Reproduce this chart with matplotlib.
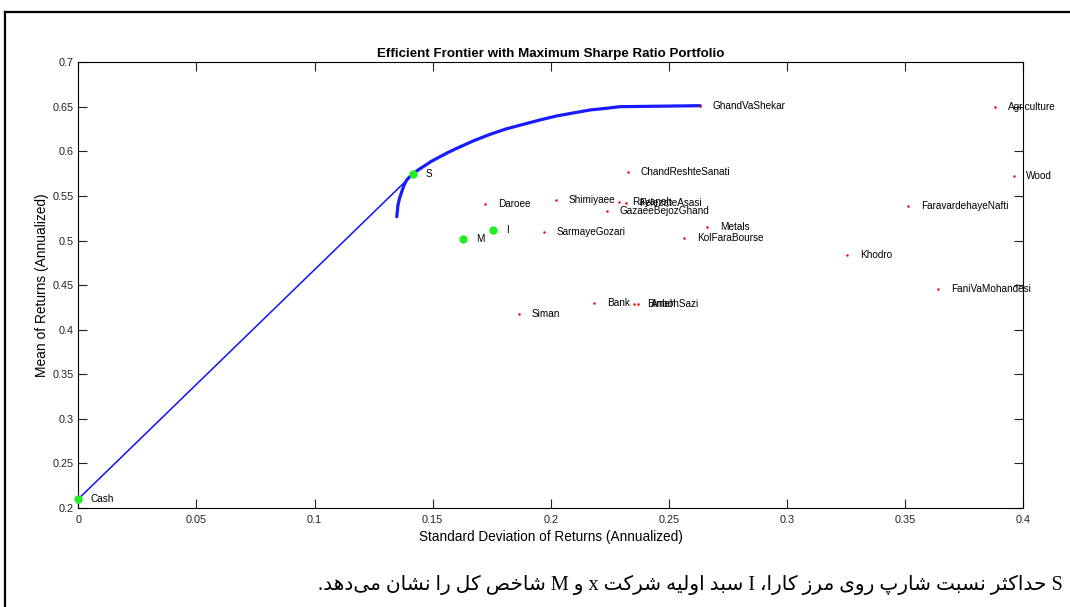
import matplotlib
matplotlib.use("Agg")
import matplotlib.pyplot as plt
from matplotlib.lines import Line2D

# Efficient frontier (risk, return)
frontier_risk = [0.1348, 0.1353, 0.1360, 0.1369, 0.1379, 0.1390, 0.1402, 0.1416,
                 0.1438, 0.1460, 0.1493, 0.1531, 0.1565, 0.1602, 0.1671, 0.1743,
                 0.1810, 0.1884, 0.1954, 0.2025, 0.2094, 0.2166, 0.2229, 0.2293, 0.2632]
frontier_ret = [0.5268, 0.5399, 0.5478, 0.5548, 0.5624, 0.5680, 0.5713, 0.5744,
                0.5792, 0.5829, 0.5887, 0.5941, 0.5988, 0.6035, 0.6117, 0.6192,
                0.6252, 0.6304, 0.6353, 0.6398, 0.6431, 0.6465, 0.6482, 0.6502, 0.6513]

# individual assets
asset_names = ["GhandVaShekar", "Agriculture", "Wood", "FaravardehayeNafti", "Khodro",
               "FaniVaMohandesi", "ChandReshteSanati", "Daroee", "Shimiyaee", "Rayaneh",
               "FelezateAsasi", "GazaeeBejozGhand", "Metals", "KolFaraBourse",
               "SarmayeGozari", "Bank", "Siman", "Bimeh", "AnbohSazi"]
asset_risk = [0.2633, 0.3880, 0.3960, 0.3513, 0.3255, 0.3640, 0.2328, 0.1723, 0.2023,
              0.2290, 0.2320, 0.2239, 0.2662, 0.2565, 0.1973, 0.2184, 0.1867, 0.2353, 0.2370]
asset_ret = [0.6507, 0.6500, 0.5720, 0.5386, 0.4836, 0.4455, 0.5767, 0.5408, 0.5453,
             0.5430, 0.5418, 0.5330, 0.5150, 0.5026, 0.5094, 0.4298, 0.4175, 0.4287, 0.4287]

# special portfolios
special_names = ["S", "I", "M", "Cash"]
special_risk = [0.1416, 0.1757, 0.1630, 0.0]
special_ret = [0.5744, 0.5117, 0.5016, 0.2101]

caption = "S حداکثر نسبت شارپ روی مرز کارا، I سبد اولیه شرکت x و M شاخص کل را نشان می‌دهد."

# --- tiny Persian shaper (matplotlib has no complex text layout) ---
forms = {
    "ا": (0xFE8D, 0xFE8E, None, None), "ب": (0xFE8F, 0xFE90, 0xFE91, 0xFE92),
    "پ": (0xFB56, 0xFB57, 0xFB58, 0xFB59), "ت": (0xFE95, 0xFE96, 0xFE97, 0xFE98),
    "ث": (0xFE99, 0xFE9A, 0xFE9B, 0xFE9C), "ج": (0xFE9D, 0xFE9E, 0xFE9F, 0xFEA0),
    "چ": (0xFB7A, 0xFB7B, 0xFB7C, 0xFB7D), "ح": (0xFEA1, 0xFEA2, 0xFEA3, 0xFEA4),
    "خ": (0xFEA5, 0xFEA6, 0xFEA7, 0xFEA8), "د": (0xFEA9, 0xFEAA, None, None),
    "ذ": (0xFEAB, 0xFEAC, None, None), "ر": (0xFEAD, 0xFEAE, None, None),
    "ز": (0xFEAF, 0xFEB0, None, None), "ژ": (0xFB8A, 0xFB8B, None, None),
    "س": (0xFEB1, 0xFEB2, 0xFEB3, 0xFEB4), "ش": (0xFEB5, 0xFEB6, 0xFEB7, 0xFEB8),
    "ص": (0xFEB9, 0xFEBA, 0xFEBB, 0xFEBC), "ض": (0xFEBD, 0xFEBE, 0xFEBF, 0xFEC0),
    "ط": (0xFEC1, 0xFEC2, 0xFEC3, 0xFEC4), "ظ": (0xFEC5, 0xFEC6, 0xFEC7, 0xFEC8),
    "ع": (0xFEC9, 0xFECA, 0xFECB, 0xFECC), "غ": (0xFECD, 0xFECE, 0xFECF, 0xFED0),
    "ف": (0xFED1, 0xFED2, 0xFED3, 0xFED4), "ق": (0xFED5, 0xFED6, 0xFED7, 0xFED8),
    "ک": (0xFB8E, 0xFB8F, 0xFB90, 0xFB91), "گ": (0xFB92, 0xFB93, 0xFB94, 0xFB95),
    "ل": (0xFEDD, 0xFEDE, 0xFEDF, 0xFEE0), "م": (0xFEE1, 0xFEE2, 0xFEE3, 0xFEE4),
    "ن": (0xFEE5, 0xFEE6, 0xFEE7, 0xFEE8), "ه": (0xFEE9, 0xFEEA, 0xFEEB, 0xFEEC),
    "و": (0xFEED, 0xFEEE, None, None), "ی": (0xFBFC, 0xFBFD, 0xFBFE, 0xFBFF),
}


def shape(text):
    out = []
    for i, ch in enumerate(text):
        if ch not in forms:
            if ch != "\u200c":
                out.append(ch)
            continue
        prev = text[i - 1] if i > 0 else ""
        nxt = text[i + 1] if i + 1 < len(text) else ""
        joins_prev = prev in forms and forms[prev][2] is not None
        joins_next = forms[ch][2] is not None and nxt in forms
        f = forms[ch]
        if joins_prev and joins_next:
            out.append(chr(f[3]))
        elif joins_prev:
            out.append(chr(f[1]))
        elif joins_next:
            out.append(chr(f[2]))
        else:
            out.append(chr(f[0]))
    return "".join(out)[::-1]


plt.rcParams["font.family"] = ["Liberation Sans", "DejaVu Sans"]

fig = plt.figure(figsize=(10.7, 6.07), dpi=100)
ax = fig.add_axes([0.0732, 0.1631, 0.8832, 0.7343])

# capital market line from cash to S
ax.plot([special_risk[3], special_risk[0]], [special_ret[3], special_ret[0]],
        color="#1010ff", lw=1.1)
ax.plot(frontier_risk, frontier_ret, color="#1a1aff", lw=2.3,
        solid_capstyle="round", solid_joinstyle="round")

ax.plot(asset_risk, asset_ret, "o", color="red", ms=1.8, mew=0, linestyle="none")
for n, xr, yr in zip(asset_names, asset_risk, asset_ret):
    ax.annotate(n, (xr, yr), xytext=(9, 0), textcoords="offset points",
                fontsize=7.2, va="center", ha="left")

ax.plot(special_risk, special_ret, "o", color="#22ee22", ms=6, mew=0,
        linestyle="none", clip_on=False, zorder=5)
for n, xr, yr in zip(special_names, special_risk, special_ret):
    ax.annotate(n, (xr, yr), xytext=(9, 0), textcoords="offset points",
                fontsize=7.2, va="center", ha="left")

ax.set_xlim(0, 0.4)
ax.set_ylim(0.2, 0.7)
ax.set_xticks([0, 0.05, 0.1, 0.15, 0.2, 0.25, 0.3, 0.35, 0.4])
ax.set_xticklabels(["0", "0.05", "0.1", "0.15", "0.2", "0.25", "0.3", "0.35", "0.4"])
ax.set_yticks([0.2, 0.25, 0.3, 0.35, 0.4, 0.45, 0.5, 0.55, 0.6, 0.65, 0.7])
ax.set_yticklabels(["0.2", "0.25", "0.3", "0.35", "0.4", "0.45", "0.5", "0.55",
                    "0.6", "0.65", "0.7"])
ax.tick_params(direction="in", top=True, right=True, length=6.5, width=0.8,
               labelsize=7.8, colors="#222222")
ax.tick_params(axis="x", pad=5)
for sp in ax.spines.values():
    sp.set_linewidth(0.8)

ax.set_title("Efficient Frontier with Maximum Sharpe Ratio Portfolio",
             fontsize=9.6, fontweight="bold", pad=4)
ax.set_xlabel("Standard Deviation of Returns (Annualized)", fontsize=9.8, labelpad=4)
ax.set_ylabel("Mean of Returns (Annualized)", fontsize=9.9, labelpad=2)

# page frame
fig.add_artist(Line2D([0.005, 1.0], [0.980, 0.980], color="black", lw=1.6))
fig.add_artist(Line2D([0.005, 0.005], [0.0, 0.980], color="black", lw=1.6))

fig.text(0.993, 0.036, shape(caption), ha="right", va="center", fontsize=14.5,
         family=["Liberation Serif", "DejaVu Sans"])

fig.savefig("out.png", dpi=100)
